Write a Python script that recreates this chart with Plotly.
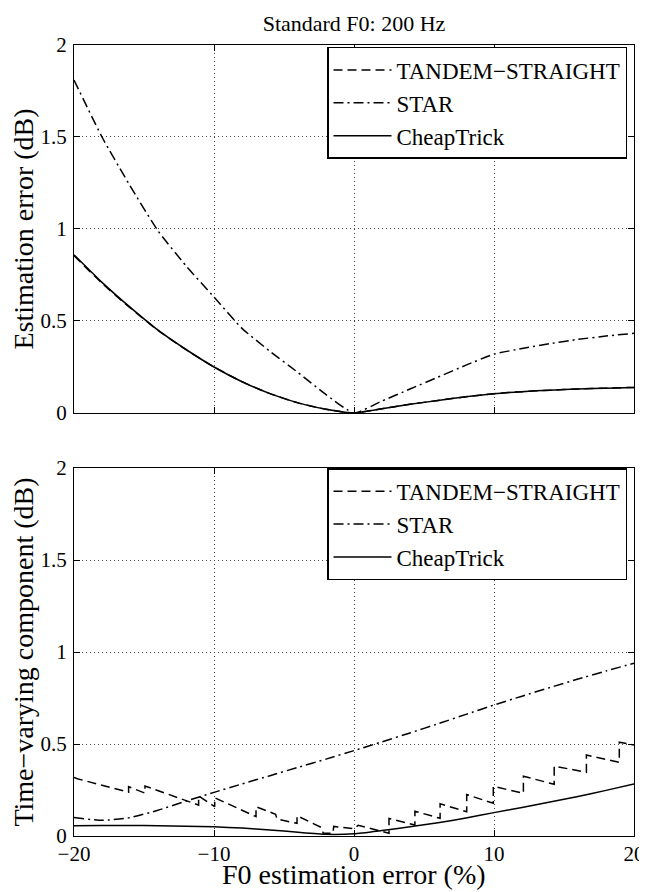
import plotly.graph_objects as go

# ---------------- data ----------------
x_grid = [-20, -18, -16, -14, -12, -10, -8, -6, -4, -2, 0, 2, 4, 6, 8, 10, 12, 14, 16, 18, 20]

# Top panel: Estimation error (dB)
top_tandem = [0.855, 0.705, 0.572, 0.449, 0.344, 0.25, 0.17, 0.105, 0.055, 0.02, 0.0,
              0.023, 0.047, 0.068, 0.088, 0.105, 0.116, 0.124, 0.13, 0.135, 0.139]
top_star = [1.81, 1.50, 1.235, 0.99, 0.80, 0.63, 0.46, 0.335, 0.22, 0.10, 0.0,
            0.065, 0.13, 0.195, 0.26, 0.32, 0.35, 0.377, 0.40, 0.418, 0.433]
top_cheap = [0.86, 0.71, 0.575, 0.45, 0.345, 0.25, 0.17, 0.105, 0.055, 0.02, 0.0,
             0.023, 0.047, 0.068, 0.088, 0.105, 0.116, 0.124, 0.13, 0.135, 0.139]

# Bottom panel: Time-varying component (dB)
bot_star = [0.10, 0.085, 0.10, 0.14, 0.19, 0.237, 0.283, 0.328, 0.373, 0.418, 0.464,
            0.512, 0.56, 0.61, 0.661, 0.712, 0.76, 0.807, 0.853, 0.897, 0.939]
bot_cheap = [0.056, 0.057, 0.057, 0.056, 0.053, 0.05, 0.043, 0.033, 0.02, 0.009, 0.012,
             0.03, 0.05, 0.072, 0.098, 0.127, 0.155, 0.185, 0.215, 0.248, 0.283]
bot_tandem_x = [-20, -19.7, -16.1, -16.1, -14.93, -14.93, -11.1, -11.1, -9.95, -9.95,
                -7.0, -7.0, -5.6, -5.5, -4.07, -4.07, -2.3, -2.2, -1.5, -1.45, 0.0, 0.3,
                2.5, 2.5, 4.35, 4.35, 6.15, 6.15, 8.05, 8.05, 9.95, 9.95, 12.1, 12.1,
                14.3, 14.3, 16.6, 16.6, 18.95, 18.95, 20]
bot_tandem_y = [0.318, 0.31, 0.238, 0.268, 0.233, 0.272, 0.168, 0.217, 0.159, 0.208,
                0.105, 0.159, 0.118, 0.092, 0.069, 0.11, 0.045, 0.015, 0.015, 0.052, 0.04, 0.058,
                0.015, 0.095, 0.06, 0.135, 0.096, 0.175, 0.132, 0.225, 0.178, 0.27, 0.232, 0.325,
                0.281, 0.38, 0.346, 0.44, 0.40, 0.51, 0.495]

x_ticks = [-20, -10, 0, 10, 20]
y_ticks = [0, 0.5, 1, 1.5, 2]
y_tick_text = ["0", "0.5", "1", "1.5", "2"]
names = ["TANDEM\u2212STRAIGHT", "STAR", "CheapTrick"]
title_text = "Standard F0: 200 Hz"
xlabel = "F0 estimation error (%)"
ylabel_top = "Estimation error (dB)"
ylabel_bot = "Time\u2212varying component (dB)"

# ---------------- figure ----------------
# The page body has an 8px margin, so the figure is sized to fill the window from (8, 8).
FIG_W, FIG_H = 639, 884
ML, MR, MT, MB = 66, 13, 37, 56
PLOT_H = FIG_H - MT - MB  # 791

FONT = "Liberation Serif, Times New Roman, serif"
DASH = "9px,5px"
DASHDOT = "10px,4px,2px,4px"
LW = 1.5
TICK_FS = 21
LABEL_FS = 28
LEGEND_FS = 23

fig = go.Figure()

fig.add_trace(go.Scatter(x=x_grid, y=top_tandem, name=names[0], mode="lines",
                         line=dict(color="black", width=LW, dash=DASH, shape="spline", smoothing=0.5),
                         xaxis="x", yaxis="y", legend="legend"))
fig.add_trace(go.Scatter(x=x_grid, y=top_star, name=names[1], mode="lines",
                         line=dict(color="black", width=LW, dash=DASHDOT, shape="spline", smoothing=0.5),
                         xaxis="x", yaxis="y", legend="legend"))
fig.add_trace(go.Scatter(x=x_grid, y=top_cheap, name=names[2], mode="lines",
                         line=dict(color="black", width=LW, shape="spline", smoothing=0.5),
                         xaxis="x", yaxis="y", legend="legend"))

fig.add_trace(go.Scatter(x=bot_tandem_x, y=bot_tandem_y, name=names[0], mode="lines",
                         line=dict(color="black", width=LW, dash=DASH),
                         xaxis="x2", yaxis="y2", legend="legend2"))
fig.add_trace(go.Scatter(x=x_grid, y=bot_star, name=names[1], mode="lines",
                         line=dict(color="black", width=LW, dash=DASHDOT, shape="spline", smoothing=0.5),
                         xaxis="x2", yaxis="y2", legend="legend2"))
fig.add_trace(go.Scatter(x=x_grid, y=bot_cheap, name=names[2], mode="lines",
                         line=dict(color="black", width=LW, shape="spline", smoothing=0.5),
                         xaxis="x2", yaxis="y2", legend="legend2"))

axis_common = dict(
    automargin=False,
    showline=True, linecolor="black", linewidth=1.3, mirror="allticks",
    ticks="inside", ticklen=6, tickcolor="black", tickwidth=1,
    showgrid=True, gridcolor="#444444", griddash="1px,3px", gridwidth=1,
    zeroline=False, tickfont=dict(family=FONT, size=TICK_FS, color="black"),
)

legend_common = dict(
    xanchor="right", yanchor="top", bgcolor="white", bordercolor="black",
    borderwidth=1.5, font=dict(family=FONT, size=LEGEND_FS, color="black"),
    tracegroupgap=0, itemwidth=58,
)

fig.update_layout(
    template="none",
    width=FIG_W, height=FIG_H,
    margin=dict(l=ML, r=MR, t=MT, b=MB, autoexpand=False),
    paper_bgcolor="white", plot_bgcolor="white",
    font=dict(family=FONT, size=TICK_FS, color="black"),
    title=dict(text=title_text, x=346 / FIG_W, xanchor="center", y=1 - 15 / FIG_H, yanchor="middle",
               font=dict(family=FONT, size=22, color="black")),
    xaxis=dict(domain=[0, 1], anchor="y", range=[-20, 20], tickvals=x_ticks, showticklabels=False,
               **axis_common),
    yaxis=dict(domain=[0.5348, 1], anchor="x", range=[0, 2], tickvals=y_ticks, ticktext=y_tick_text,
               ticklabelstandoff=2,
               title=dict(text=ylabel_top, font=dict(family=FONT, size=LABEL_FS), standoff=3),
               **axis_common),
    xaxis2=dict(domain=[0, 1], anchor="y2", range=[-20, 20], tickvals=x_ticks,
                ticklabelstandoff=-1,
                **axis_common),
    yaxis2=dict(domain=[0, 0.4652], anchor="x2", range=[0, 2], tickvals=y_ticks, ticktext=y_tick_text,
                ticklabelstandoff=2,
                title=dict(text=ylabel_bot, font=dict(family=FONT, size=LABEL_FS), standoff=3),
                **axis_common),
    legend=dict(x=0.9875, y=0.9975, **legend_common),
    legend2=dict(x=0.9875, y=0.465, **legend_common),
    showlegend=True,
    annotations=[dict(text=xlabel, xref="paper", yref="paper", x=0.5, y=-(866 - (FIG_H - MB)) / PLOT_H,
                      xanchor="center", yanchor="middle", showarrow=False,
                      font=dict(family=FONT, size=LABEL_FS, color="black"))],
)

fig.write_html("out.html")
